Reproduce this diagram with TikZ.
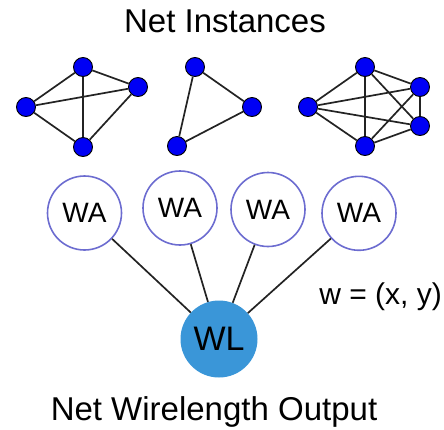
\documentclass[tikz,border=0pt]{standalone}
\usepackage{fontspec}
\setmainfont{Liberation Sans}
\definecolor{vertexblue}{RGB}{0,0,245}
\definecolor{waring}{RGB}{108,108,208}
\definecolor{wlfill}{RGB}{58,150,216}
\definecolor{edgegray}{RGB}{35,35,35}
\tikzset{
  vtx/.style={circle, draw=black, line width=0.9pt, fill=vertexblue, minimum size=19pt, inner sep=0pt},
  netedge/.style={draw=edgegray, line width=1.7pt},
  wanode/.style={circle, draw=waring, line width=1.6pt, fill=white, minimum size=74pt, inner sep=0pt, font=\fontsize{28}{30}\selectfont},
  wlnode/.style={circle, fill=wlfill, minimum size=77pt, inner sep=0pt, font=\fontsize{34}{36}\selectfont},
  link/.style={draw=edgegray, line width=1.7pt},
  caption/.style={font=\fontsize{33}{36}\selectfont, inner sep=0pt},
}
\begin{document}
\begin{tikzpicture}[x=1pt, y=-1pt]
\useasboundingbox (0,0) rectangle (444,429);

% title
\node[caption, anchor=base] (title) at (225,32) {Net Instances};

% net 1: complete graph on four pins
\node[vtx] (a1) at (83,67) {};
\node[vtx] (a2) at (138,87) {};
\node[vtx] (a3) at (26,107) {};
\node[vtx] (a4) at (83,147) {};
\path[netedge] (a3) -- (a1) (a3) -- (a2) (a3) -- (a4) (a1) -- (a2) (a1) -- (a4) (a2) -- (a4);

% net 2: three pins
\node[vtx] (b1) at (195,67) {};
\node[vtx] (b2) at (252,107) {};
\node[vtx] (b3) at (177,146) {};
\path[netedge] (b1) -- (b2) (b2) -- (b3) (b3) -- (b1);

% net 3: complete graph on five pins
\node[vtx] (c1) at (365,67) {};
\node[vtx] (c2) at (420,87) {};
\node[vtx] (c3) at (420,126) {};
\node[vtx] (c4) at (365,146) {};
\node[vtx] (c5) at (308,107) {};
\path[netedge] (c5) -- (c1) (c5) -- (c2) (c5) -- (c3) (c5) -- (c4)
  (c1) -- (c2) (c1) -- (c3) (c1) -- (c4) (c4) -- (c2) (c4) -- (c3) (c2) -- (c3);

% weighted-average nodes and wirelength output
\node[wanode] (wa1) at (84.5,213) {WA};
\node[wanode] (wa2) at (180,208) {WA};
\node[wanode] (wa3) at (268,209.5) {WA};
\node[wanode] (wa4) at (359,213.3) {WA};
\node[wlnode] (wl) at (219,339) {WL};
\path[link] (wa1) -- (wl) (wa2) -- (wl) (wa3) -- (wl) (wa4) -- (wl);

\node[font=\fontsize{30}{32}\selectfont, anchor=base east, inner sep=0pt] (wlabel) at (442,304) {w = (x, y)};

\node[caption, anchor=base] (out) at (214,420) {Net Wirelength Output};
\end{tikzpicture}
\end{document}
